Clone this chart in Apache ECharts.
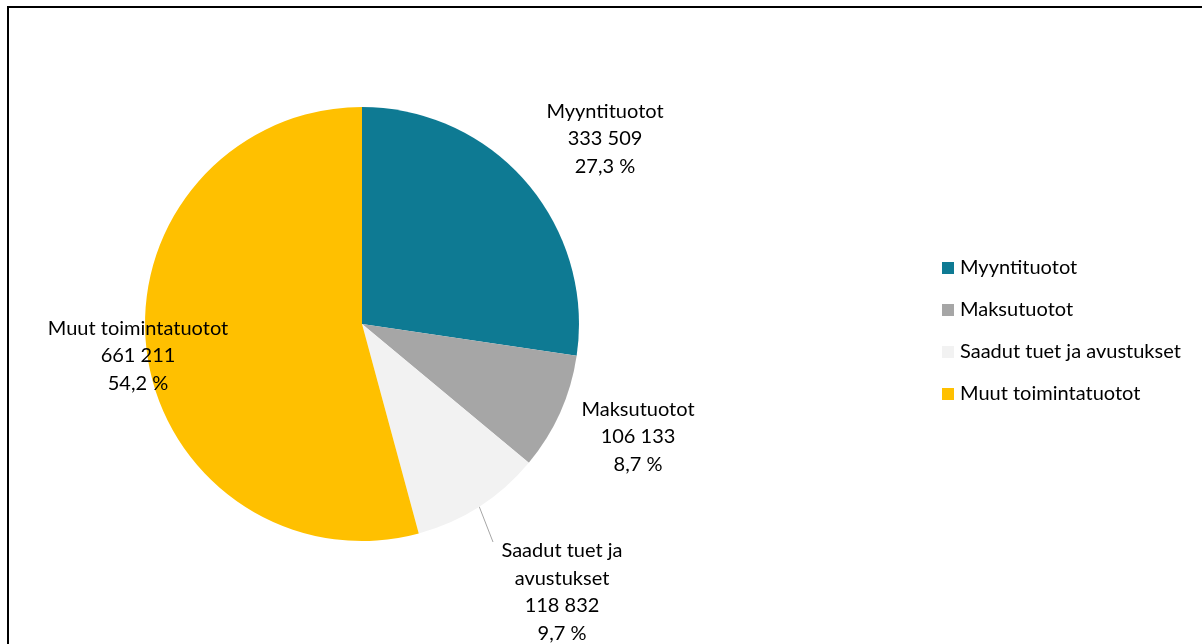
<!DOCTYPE html>
<html>
<head>
<meta charset="utf-8">
<script src="https://cdn.jsdelivr.net/npm/echarts@6/dist/echarts.min.js"></script>
<style>
  html, body { margin: 0; padding: 0; background: #fff; }
  #chart { width: 1202px; height: 644px; }
</style>
</head>
<body>
<div id="chart"></div>
<script>
const categories = ['Myyntituotot', 'Maksutuotot', 'Saadut tuet ja avustukset', 'Muut toimintatuotot']
const values = [333509, 106133, 118832, 661211]
const colors = ['#0e7a93', '#a6a6a6', '#f2f2f2', '#ffc000']

// label anchor points (center of label block), in pixels
const labelPos = [[605, 139], [638, 437], [562, 592], [138, 356]]

const total = values.reduce((a, b) => a + b, 0)
const fmtNum = (v) => String(v).replace(/\B(?=(\d{3})+(?!\d))/g, ' ')
const fmtPct = (v) => (v / total * 100).toFixed(1).replace('.', ',') + ' %'

const chart = echarts.init(document.getElementById('chart'))
const font = 'Lato, "Open Sans", sans-serif'

const option = {
  animation: false,
  textStyle: { fontFamily: font },
  graphic: [{
    type: 'rect',
    shape: { x: 8, y: 7, width: 1220, height: 700 },
    style: { fill: 'none', stroke: '#000', lineWidth: 2 },
    silent: true
  }],
  legend: {
    orient: 'vertical',
    left: 937,
    top: 253,
    itemWidth: 12,
    itemHeight: 12,
    itemGap: 22,
    icon: 'rect',
    textStyle: { fontSize: 20, lineHeight: 20, color: '#000', fontFamily: font, padding: [0, 0, 0, 1] },
    data: categories
  },
  series: [{
    type: 'pie',
    center: [362, 324],
    radius: 217,
    startAngle: 90,
    clockwise: true,
    avoidLabelOverlap: false,
    data: categories.map((c, i) => ({
      name: c,
      value: values[i],
      itemStyle: { color: colors[i] },
      labelLine: { show: i === 2 }
    })),
    label: {
      show: true,
      position: 'outside',
      color: '#000',
      fontSize: 20,
      lineHeight: 27.5,
      fontFamily: font,
      align: 'center',
      formatter: (p) => {
        const name = p.dataIndex === 2 ? 'Saadut tuet ja\navustukset' : p.name
        return name + '\n' + fmtNum(p.value) + '\n' + fmtPct(p.value)
      }
    },
    labelLine: {
      length: 10,
      length2: 10,
      lineStyle: { color: '#a6a6a6', width: 1 }
    },
    labelLayout: (params) => {
      const [x, y] = labelPos[params.dataIndex]
      const out = { x: x, y: y, align: 'center', verticalAlign: 'middle' }
      if (params.dataIndex === 2 && params.labelLinePoints) {
        // straight leader from slice edge to the label's upper-left corner
        out.labelLinePoints = [params.labelLinePoints[0], [x - 69, y - 50]]
      }
      return out
    }
  }]
}
chart.setOption(option)
</script>
</body>
</html>
